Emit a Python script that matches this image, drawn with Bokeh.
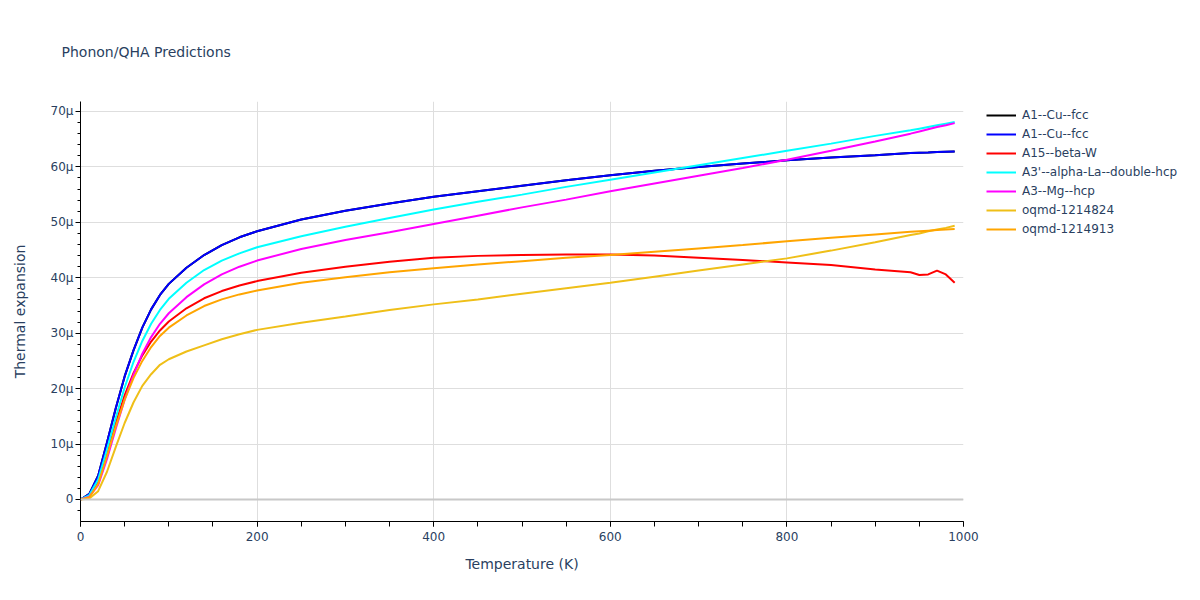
from bokeh.plotting import figure
from bokeh.models import (Range1d, SingleIntervalTicker, CustomJSTickFormatter, Span,
                          Legend, LegendItem)
from bokeh.embed import file_html
from bokeh.resources import INLINE

# Temperature grid (K)
temperature = [0, 10, 20, 30, 40, 50, 60, 70, 80, 90, 100, 120, 140, 160, 180, 200,
               250, 300, 350, 400, 450, 500, 550, 600, 650, 700, 750, 800, 850, 900,
               940, 950, 960, 970, 980, 990]

# Thermal expansion values in units of 1e-6 (micro)
cu_fcc = [0, 1.0, 4.3, 10.3, 16.5, 22.2, 26.9, 31.0, 34.3, 36.9, 38.9, 41.8, 44.1, 45.9, 47.3, 48.4,
          50.5, 52.1, 53.4, 54.6, 55.6, 56.6, 57.6, 58.5, 59.3, 60.0, 60.6, 61.2, 61.7, 62.1,
          62.5, 62.55, 62.6, 62.7, 62.75, 62.8]
beta_w = [0, 0.6, 3.1, 8.2, 13.8, 18.8, 22.8, 26.0, 28.5, 30.5, 32.1, 34.5, 36.3, 37.6, 38.6, 39.4,
          40.9, 42.0, 42.9, 43.6, 43.95, 44.1, 44.2, 44.2, 44.0, 43.6, 43.2, 42.75, 42.3, 41.5,
          41.0, 40.5, 40.6, 41.3, 40.6, 39.1]
alpha_la = [0, 0.8, 3.6, 9.0, 14.8, 20.2, 24.8, 28.6, 31.7, 34.2, 36.2, 39.1, 41.4, 43.1, 44.4, 45.5,
            47.5, 49.2, 50.8, 52.3, 53.7, 55.0, 56.4, 57.7, 59.0, 60.3, 61.6, 62.9, 64.2, 65.6,
            66.6, 66.9, 67.2, 67.5, 67.8, 68.1]
mg_hcp = [0, 0.5, 2.6, 7.3, 12.8, 18.0, 22.5, 26.3, 29.3, 31.7, 33.6, 36.5, 38.8, 40.6, 42.0, 43.1,
          45.2, 46.8, 48.2, 49.7, 51.2, 52.7, 54.1, 55.6, 57.0, 58.4, 59.8, 61.3, 62.9, 64.6,
          66.0, 66.4, 66.8, 67.2, 67.5, 67.9]
oqmd_1214824 = [0, 0.2, 1.5, 5.0, 9.5, 13.8, 17.5, 20.5, 22.6, 24.3, 25.3, 26.7, 27.8, 28.9, 29.8, 30.6,
                31.9, 33.0, 34.2, 35.2, 36.1, 37.1, 38.1, 39.1, 40.2, 41.3, 42.4, 43.5, 44.9, 46.4,
                47.7, 48.0, 48.4, 48.7, 49.0, 49.4]
oqmd_1214913 = [0, 0.4, 2.8, 7.8, 13.2, 18.0, 21.9, 25.0, 27.5, 29.5, 31.0, 33.2, 34.9, 36.1, 37.0, 37.7,
                39.1, 40.1, 41.0, 41.7, 42.4, 43.0, 43.6, 44.1, 44.7, 45.3, 45.9, 46.6, 47.2, 47.8,
                48.3, 48.4, 48.5, 48.6, 48.7, 48.8]

series_names = ["A1--Cu--fcc", "A1--Cu--fcc", "A15--beta-W", "A3'--alpha-La--double-hcp",
                "A3--Mg--hcp", "oqmd-1214824", "oqmd-1214913"]
series_values = [cu_fcc, cu_fcc, beta_w, alpha_la, mg_hcp, oqmd_1214824, oqmd_1214913]
series_colors = ["#000000", "#0000ff", "#ff0000", "#00ffff", "#ff00ff", "#efbf18", "#ffa500"]

FONT = "DejaVu Sans"
TXT = "#2a3f5f"

p = figure(frame_width=883, frame_height=420, output_backend="svg", toolbar_location=None,
           x_range=Range1d(0, 1000), y_range=Range1d(-3.97e-6, 71.8e-6),
           min_border_left=80, min_border_right=0, min_border_top=100, min_border_bottom=80,
           title="Phonon/QHA Predictions")
p.outline_line_color = None
p.background_fill_color = "white"

p.title.text_font = FONT
p.title.text_font_size = "14px"
p.title.text_font_style = "normal"
p.title.text_color = TXT
p.title.align = "left"
p.title.offset = -19
p.title.standoff = 83

# axes
p.xaxis.ticker = SingleIntervalTicker(interval=200, num_minor_ticks=4)
p.yaxis.ticker = SingleIntervalTicker(interval=10e-6, num_minor_ticks=5)
p.yaxis.formatter = CustomJSTickFormatter(
    code="const v = Math.round(tick*1e6); return v == 0 ? '0' : v + 'μ';")
for ax in (p.xaxis, p.yaxis):
    ax.axis_line_color = "black"
    ax.axis_line_width = 1
    ax.major_tick_line_color = "black"
    ax.minor_tick_line_color = "black"
    ax.major_tick_in = 0
    ax.minor_tick_in = 0
    ax.major_tick_out = 5
    ax.major_label_text_font = FONT
    ax.major_label_text_font_size = "12px"
    ax.major_label_text_color = TXT
    ax.axis_label_text_font = FONT
    ax.axis_label_text_font_size = "14px"
    ax.axis_label_text_font_style = "normal"
    ax.axis_label_text_color = TXT
p.xaxis.minor_tick_out = 5
p.yaxis.minor_tick_out = 3
p.xaxis.axis_label = "Temperature (K)"
p.yaxis.axis_label = "Thermal expansion"
p.xaxis.major_label_standoff = 5
p.xaxis.axis_label_standoff = 12
p.yaxis.major_label_standoff = 2
p.yaxis.axis_label_standoff = 20

p.xgrid.grid_line_color = "#dedede"
p.ygrid.grid_line_color = "#dedede"
p.xgrid.grid_line_width = 1
p.ygrid.grid_line_width = 1

zero = Span(location=0, dimension="width", line_color="#c8c8c8", line_width=2)
p.add_layout(zero)

items = []
for name, vals, col in zip(series_names, series_values, series_colors):
    r = p.line(temperature, [v * 1e-6 for v in vals], line_color=col, line_width=2)
    items.append(LegendItem(label=name, renderers=[r]))

legend = Legend(items=items, location=(23, 284))
legend.label_text_font = FONT
legend.label_text_font_size = "12px"
legend.label_text_color = TXT
legend.glyph_width = 30
legend.glyph_height = 16
legend.label_height = 16
legend.spacing = 3
legend.padding = 5
legend.margin = 0
legend.label_standoff = 6
legend.border_line_color = None
legend.background_fill_alpha = 0
p.add_layout(legend, "right")

open("out.html", "w").write(file_html(p, INLINE))
